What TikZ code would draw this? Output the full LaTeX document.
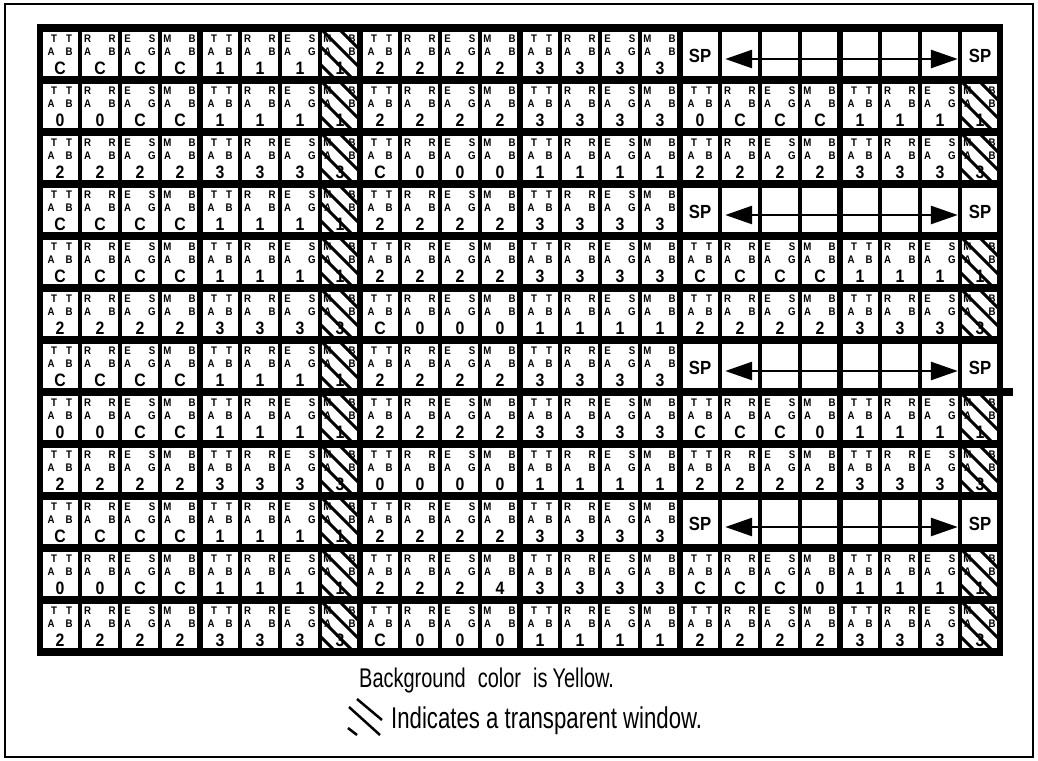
\documentclass[tikz,border=0pt]{standalone}
\usepackage{fontspec}
\setmainfont{Liberation Sans}
\newfontfamily\cellfont[FakeStretch=0.88]{Liberation Sans}
\newfontfamily\legfont[FakeStretch=0.74]{Liberation Sans}
\usetikzlibrary{arrows.meta,calc}
\newcommand\rowdata[1]{\ifcase#1\or
C,C,C,C,1,1,1,1,2,2,2,2,3,3,3,3\or
0,0,C,C,1,1,1,1,2,2,2,2,3,3,3,3,0,C,C,C,1,1,1,1\or
2,2,2,2,3,3,3,3,C,0,0,0,1,1,1,1,2,2,2,2,3,3,3,3\or
C,C,C,C,1,1,1,1,2,2,2,2,3,3,3,3\or
C,C,C,C,1,1,1,1,2,2,2,2,3,3,3,3,C,C,C,C,1,1,1,1\or
2,2,2,2,3,3,3,3,C,0,0,0,1,1,1,1,2,2,2,2,3,3,3,3\or
C,C,C,C,1,1,1,1,2,2,2,2,3,3,3,3\or
0,0,C,C,1,1,1,1,2,2,2,2,3,3,3,3,C,C,C,0,1,1,1,1\or
2,2,2,2,3,3,3,3,0,0,0,0,1,1,1,1,2,2,2,2,3,3,3,3\or
C,C,C,C,1,1,1,1,2,2,2,2,3,3,3,3\or
0,0,C,C,1,1,1,1,2,2,2,4,3,3,3,3,C,C,C,0,1,1,1,1\or
2,2,2,2,3,3,3,3,C,0,0,0,1,1,1,1,2,2,2,2,3,3,3,3\fi}
\newcommand\cellTL[1]{\ifcase#1 T\or R\or E\or M\fi}
\newcommand\cellTR[1]{\ifcase#1 T\or R\or S\or B\fi}
\newcommand\cellBR[1]{\ifcase#1 B\or B\or G\or B\fi}
\newcommand\hatchcell[2]{\begin{scope}
  \clip (#1+1.75,#2+3.75) rectangle (#1+37,#2+48.25);
  \foreach \o in {-36,-18,0,18} \draw[hatchline] (#1+\o,#2) -- ++(60,60);
\end{scope}}
\begin{document}
\begin{tikzpicture}[x=1pt,y=-1pt,
  frameline/.style={line width=2.5pt},
  rowline/.style={line width=7.5pt},
  colthick/.style={line width=6pt},
  colthin/.style={line width=3.5pt},
  cellbox/.style={minimum width=40pt,minimum height=52pt,inner sep=0pt},
  smallch/.style={inner sep=0pt,font=\cellfont\bfseries\fontsize{11}{11}\selectfont},
  bigch/.style={inner sep=0pt,font=\cellfont\bfseries\fontsize{18}{18}\selectfont},
  spbox/.style={minimum width=40pt,minimum height=52pt,inner sep=0pt,font=\cellfont\bfseries\fontsize{19}{19}\selectfont},
  sparrow/.style={line width=2.7pt,{Triangle[length=27pt,width=18pt]}-{Triangle[length=27pt,width=18pt]}},
  hatchline/.style={line width=3pt},
  legtext/.style={inner sep=0pt,anchor=base west,font=\legfont\fontsize{27}{27}\selectfont},
]
\useasboundingbox (0,0) rectangle (1038,760);
\draw[frameline] (5,4) rectangle (1033,757);
% grid lines
\foreach \r in {0,...,12}
  \draw[rowline] (37,{28+52*\r}) -- ({\r==7 ? 1013 : 1003},{28+52*\r});
\foreach \c in {0,4,...,24}
  \draw[colthick] ({40+40*\c},24.25) -- ({40+40*\c},655.75);
\foreach \c in {1,2,3,5,6,7,9,10,11,13,14,15,17,18,19,21,22,23}
  \draw[colthin] ({40+40*\c},24.25) -- ({40+40*\c},655.75);
% cells
\foreach \r in {1,...,12}{
  \edef\vals{\rowdata{\r}}
  \foreach \v [count=\c] in \vals {
    \pgfmathsetmacro\cx{40+40*(\c-1)}
    \pgfmathsetmacro\cy{28+52*(\r-1)}
    \pgfmathtruncatemacro\k{mod(\c-1,4)}
    \pgfmathsetmacro\tlx{\k==0 ? 14 : 7.5}
    \pgfmathsetmacro\trx{\k==0 ? 29 : 32}
    \pgfmathsetmacro\blx{\k==0 ? 11 : 7.5}
    \pgfmathsetmacro\brx{\k==0 ? 29 : 32}
    \node[cellbox] (cell-\r-\c) at (\cx+20,\cy+26) {};
    \node[smallch] (tl-\r-\c) at (\cx+\tlx,\cy+10.5) {\cellTL{\k}};
    \node[smallch] (tr-\r-\c) at (\cx+\trx,\cy+10.5) {\cellTR{\k}};
    \node[smallch] (bl-\r-\c) at (\cx+\blx,\cy+24) {A};
    \node[smallch] (br-\r-\c) at (\cx+\brx,\cy+24) {\cellBR{\k}};
    \node[bigch] (big-\r-\c) at (\cx+20,\cy+40) {\v};
    \ifnum\c=8 \hatchcell{\cx}{\cy}\fi
    \ifnum\c=24 \hatchcell{\cx}{\cy}\fi
  }
}
% SP rows
\foreach \r in {1,4,7,10}{
  \pgfmathsetmacro\cy{28+52*(\r-1)}
  \node[spbox] (spL-\r) at (700,\cy+28) {SP};
  \node[spbox] (spR-\r) at (980,\cy+28) {SP};
  \draw[sparrow] ($(spL-\r.east)+(5,3)$) -- ($(spR-\r.west)+(-2,3)$);
}
% legend
\node[legtext] (leg1) at (359,687) {Background\hspace{12pt}color\hspace{12pt}is\hspace{5pt}Yellow.};
\node[legtext,font=\legfont\fontsize{30}{30}\selectfont] (leg2) at (391,728) {Indicates a transparent window.};
\draw[line width=2.5pt] (357,699) -- (382,720);
\draw[line width=2.5pt] (349,707) -- (380,735);
\draw[line width=2.5pt] (348,728) -- (357,735);
\end{tikzpicture}
\end{document}
